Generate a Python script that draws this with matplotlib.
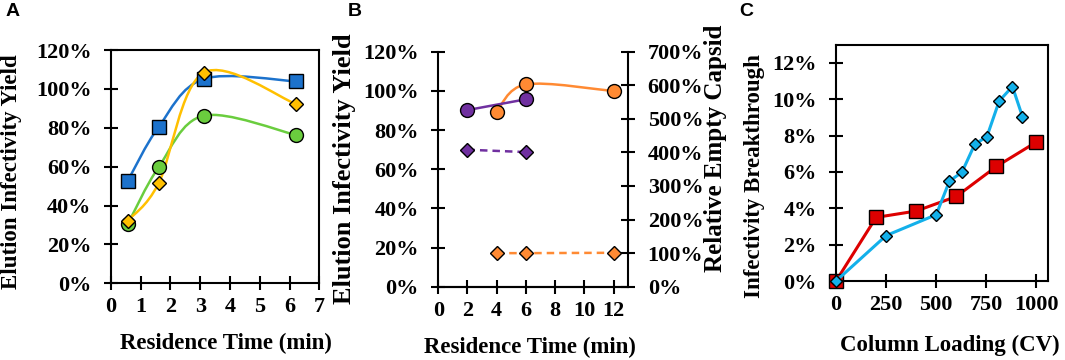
import matplotlib
matplotlib.use('Agg')
import matplotlib.pyplot as plt
from matplotlib.path import Path
from matplotlib.patches import PathPatch
from matplotlib.ticker import FuncFormatter

plt.rcParams['font.family'] = 'Liberation Serif'
plt.rcParams['font.weight'] = 'bold'
plt.rcParams['axes.labelweight'] = 'bold'

# Panel A: elution infectivity yield vs residence time (%)
a_time = [0.56, 1.6, 3.11, 6.22]
a_blue = [52.6, 80.4, 105.1, 103.9]
a_yellow = [32.2, 51.4, 108.3, 92.2]
a_green = [30.3, 59.7, 86.2, 76.3]

# Panel B: yield (left axis) and relative empty capsid (right axis)
b_time_purple = [2, 6]
b_yield_purple = [90.2, 95.7]
b_empty_purple = [408, 401]
b_time_orange = [4, 6, 12]
b_yield_orange = [89.4, 103.3, 99.9]
b_empty_orange = [100, 100, 101]

# Panel C: infectivity breakthrough vs column loading (%)
c_load_red = [0, 200, 400, 600, 800, 1000]
c_bt_red = [0, 3.5, 3.85, 4.65, 6.3, 7.65]
c_load_blue = [0, 250, 500, 566, 628, 692, 753, 814, 880, 930]
c_bt_blue = [0, 2.5, 3.65, 5.5, 5.98, 7.52, 7.95, 9.9, 10.7, 9.05]

BLUE = '#1c72cc'
YELLOW = '#ffc000'
GREEN = '#6acd3e'
PURPLE = '#7030a0'
ORANGE = '#ff8a33'
RED = '#dd0000'
CYAN = '#13b0ea'

pct = FuncFormatter(lambda v, p: '%d%%' % round(v))


def smooth_line(ax, xs, ys, color, lw=1.8):
    # excel style smoothed line (catmull-rom as bezier segments)
    pts = list(zip(xs, ys))
    n = len(pts)
    verts = [pts[0]]
    codes = [Path.MOVETO]
    for i in range(n - 1):
        p0 = pts[max(i - 1, 0)]
        p1 = pts[i]
        p2 = pts[i + 1]
        p3 = pts[min(i + 2, n - 1)]
        c1 = (p1[0] + (p2[0] - p0[0]) / 6, p1[1] + (p2[1] - p0[1]) / 6)
        c2 = (p2[0] - (p3[0] - p1[0]) / 6, p2[1] - (p3[1] - p1[1]) / 6)
        verts += [c1, c2, p2]
        codes += [Path.CURVE4] * 3
    ax.add_patch(PathPatch(Path(verts, codes), fill=False, edgecolor=color,
                           lw=lw, capstyle='round', zorder=2))


def style(ax, xpad=5, ypad=9):
    for s in ax.spines.values():
        s.set_linewidth(1.5)
    ax.tick_params(axis='both', direction='inout', length=10, width=1.5,
                   labelsize=16)
    ax.tick_params(axis='x', pad=xpad)
    ax.tick_params(axis='y', pad=ypad)


fig = plt.figure(figsize=(10.65, 3.6), dpi=100)

# ---------------- A ----------------
axA = fig.add_axes([0.1042, 0.2130, 0.1956, 0.6481])
smooth_line(axA, a_time, a_blue, BLUE)
smooth_line(axA, a_time, a_green, GREEN)
smooth_line(axA, a_time, a_yellow, YELLOW)
axA.plot(a_time, a_blue, ls='none', marker='s', ms=10, mfc=BLUE, mec='black', mew=1.0, zorder=3)
axA.plot(a_time, a_green, ls='none', marker='o', ms=10, mfc=GREEN, mec='black', mew=1.0, zorder=3)
axA.plot(a_time, a_yellow, ls='none', marker='D', ms=7, mfc=YELLOW, mec='black', mew=1.0, zorder=4)
axA.set_xlim(0, 7)
axA.set_ylim(0, 120)
axA.set_xticks(range(0, 8))
axA.set_yticks(range(0, 121, 20))
axA.yaxis.set_major_formatter(pct)
style(axA)
axA.set_xlabel('Residence Time (min)', fontsize=16.5)
axA.xaxis.set_label_coords(0.55, -0.213)
axA.set_ylabel('Elution Infectivity Yield', fontsize=16.5)
axA.yaxis.set_label_coords(-0.427, 0.479)

# ---------------- B ----------------
axB = fig.add_axes([0.4115, 0.2036, 0.1784, 0.6528])
axB2 = axB.twinx()
smooth_line(axB, b_time_orange, b_yield_orange, ORANGE)
axB.plot(b_time_purple, b_yield_purple, color=PURPLE, lw=1.8, zorder=2)
axB.plot(b_time_orange, b_yield_orange, ls='none', marker='o', ms=10, mfc=ORANGE, mec='black', mew=1.0, zorder=3)
axB.plot(b_time_purple, b_yield_purple, ls='none', marker='o', ms=10, mfc=PURPLE, mec='black', mew=1.0, zorder=4)
axB2.plot(b_time_purple, b_empty_purple, color=PURPLE, lw=1.8, ls=(0, (3, 2)),
          marker='D', ms=7, mfc=PURPLE, mec='black', mew=1.0)
axB2.plot(b_time_orange, b_empty_orange, color=ORANGE, lw=1.8, ls=(0, (3, 2)),
          marker='D', ms=7, mfc=ORANGE, mec='black', mew=1.0)
axB.set_xlim(0, 13)
axB.set_ylim(0, 120)
axB2.set_ylim(0, 700)
axB.set_xticks(range(0, 13, 2))
axB.set_yticks(range(0, 121, 20))
axB2.set_yticks(range(0, 701, 100))
axB.yaxis.set_major_formatter(pct)
axB2.yaxis.set_major_formatter(pct)
style(axB)
style(axB2)
axB.spines['top'].set_visible(False)
axB2.spines['top'].set_visible(False)
axB.spines['right'].set_visible(False)
axB2.spines['left'].set_visible(False)
axB.set_xlabel('Residence Time (min)', fontsize=16.5)
axB.xaxis.set_label_coords(0.483, -0.214)
axB.set_ylabel('Elution Infectivity Yield', fontsize=19)
axB.yaxis.set_label_coords(-0.433, 0.503)
axB2.set_ylabel('Relative Empty Capsid', fontsize=18)
axB2.yaxis.set_label_coords(1.40, 0.588)

# ---------------- C ----------------
axC = fig.add_axes([0.785, 0.2194, 0.1995, 0.6564])
axC.plot(c_load_red, c_bt_red, color=RED, lw=2.2, marker='s', ms=9.5,
         mfc=RED, mec='black', mew=1.0, zorder=2)
axC.plot(c_load_blue, c_bt_blue, color=CYAN, lw=2.2, marker='D', ms=6.5,
         mfc=CYAN, mec='black', mew=1.0, zorder=3)
axC.set_xlim(0, 1060)
axC.set_ylim(0, 13)
axC.set_xticks([0, 250, 500, 750, 1000])
axC.set_yticks(range(0, 13, 2))
axC.yaxis.set_major_formatter(pct)
style(axC)
for ln in axC.lines:
    ln.set_clip_on(False)
axC.set_xlabel('Column Loading (CV)', fontsize=16.5)
axC.xaxis.set_label_coords(0.536, -0.229)
axC.set_ylabel('Infectivity Breakthrough', fontsize=16.5)
axC.yaxis.set_label_coords(-0.334, 0.444)

# panel letters
for x, lab in [(13, 'A'), (354.5, 'B'), (746, 'C')]:
    fig.text(x / 1065, 1 - 12 / 360, lab, family='Liberation Sans',
             weight='bold', fontsize=14, ha='center', va='center')

fig.savefig('out.png', dpi=100)
